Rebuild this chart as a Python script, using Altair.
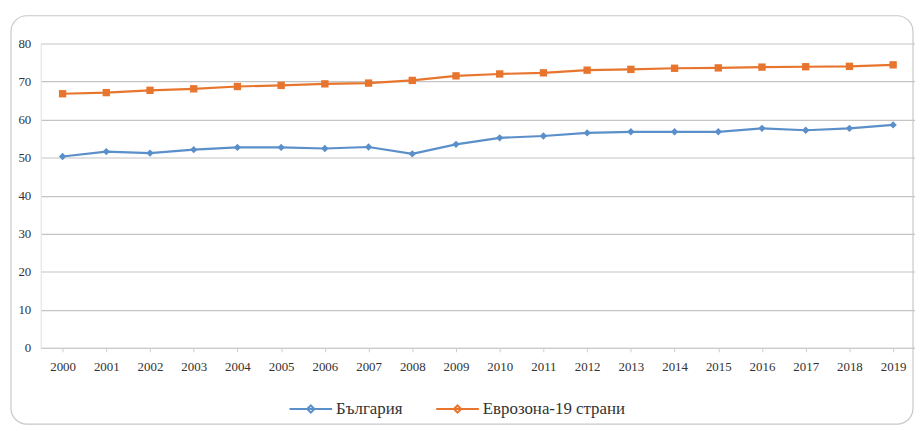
import altair as alt
import pandas as pd

years = [str(y) for y in range(2000, 2020)]
bulgaria = [50.3, 51.6, 51.2, 52.1, 52.7, 52.7, 52.4, 52.8, 51.0, 53.5,
            55.2, 55.7, 56.5, 56.8, 56.8, 56.8, 57.7, 57.2, 57.7, 58.6]
eurozone = [66.8, 67.1, 67.7, 68.1, 68.7, 69.0, 69.4, 69.6, 70.3, 71.5,
            72.0, 72.3, 73.0, 73.2, 73.5, 73.6, 73.8, 73.9, 74.0, 74.4]
series = ["България", "Еврозона-19 страни"]
colors = ["#5b8fc9", "#e8752e"]
shapes = ["diamond", "square"]

df = pd.DataFrame({
    "year": years * 2,
    "value": bulgaria + eurozone,
    "series": [series[0]] * len(years) + [series[1]] * len(years),
})
df["marker"] = df["series"]

FONT = "Liberation Serif"
W, H = 882, 307

legend = alt.Legend(
    title=None, orient="none", direction="horizontal", legendX=250, legendY=346,
    symbolType="M-1,0H1M-0.17,0L0,-0.17L0.17,0L0,0.17Z",
    symbolSize=1849, symbolStrokeWidth=2, labelFont=FONT, labelFontSize=17,
    labelColor="#333333", columnPadding=30, labelOffset=3,
)

x = alt.X("year:O", title=None,
          axis=alt.Axis(labelAngle=0, labelFont=FONT, labelFontSize=13, labelColor="#333333",
                        domainColor="#cccccc", tickColor="#cccccc", tickSize=4, labelPadding=9, grid=False))
y = alt.Y("value:Q", title=None, scale=alt.Scale(domain=[0, 80]),
          axis=alt.Axis(values=list(range(0, 81, 10)), labelFont=FONT, labelFontSize=13,
                        labelColor="#333333", ticks=False, domain=True, domainColor="#e0e0e0",
                        gridColor="#c4c4c4", gridWidth=1.2, labelPadding=10))

base = alt.Chart(df)
lines = base.mark_line(strokeWidth=2.2).encode(
    x=x, y=y,
    color=alt.Color("series:N", scale=alt.Scale(domain=series, range=colors), legend=legend),
)
points = base.mark_point(filled=True, size=55, opacity=1).encode(
    x=x, y=y,
    color=alt.Color("marker:N", scale=alt.Scale(domain=series, range=colors), legend=None),
    shape=alt.Shape("marker:N", scale=alt.Scale(domain=series, range=shapes), legend=None),
)

frame = alt.Chart(pd.DataFrame({"a": [0]})).mark_rect(
    fill=None, stroke="#c8c8c8", strokeWidth=1.2, cornerRadius=16, clip=False
).encode(x=alt.value(-30), x2=alt.value(880), y=alt.value(-28), y2=alt.value(384))

chart = alt.layer(frame, lines, points).resolve_scale(
    color="independent", shape="independent"
).resolve_legend(color="independent", shape="independent").properties(
    width=W, height=H, padding={"left": 2, "top": 5, "right": 0, "bottom": 0},
    background="white",
).configure_view(stroke=None)

chart.save("out.html", embed_options={"renderer": "svg", "actions": False})
